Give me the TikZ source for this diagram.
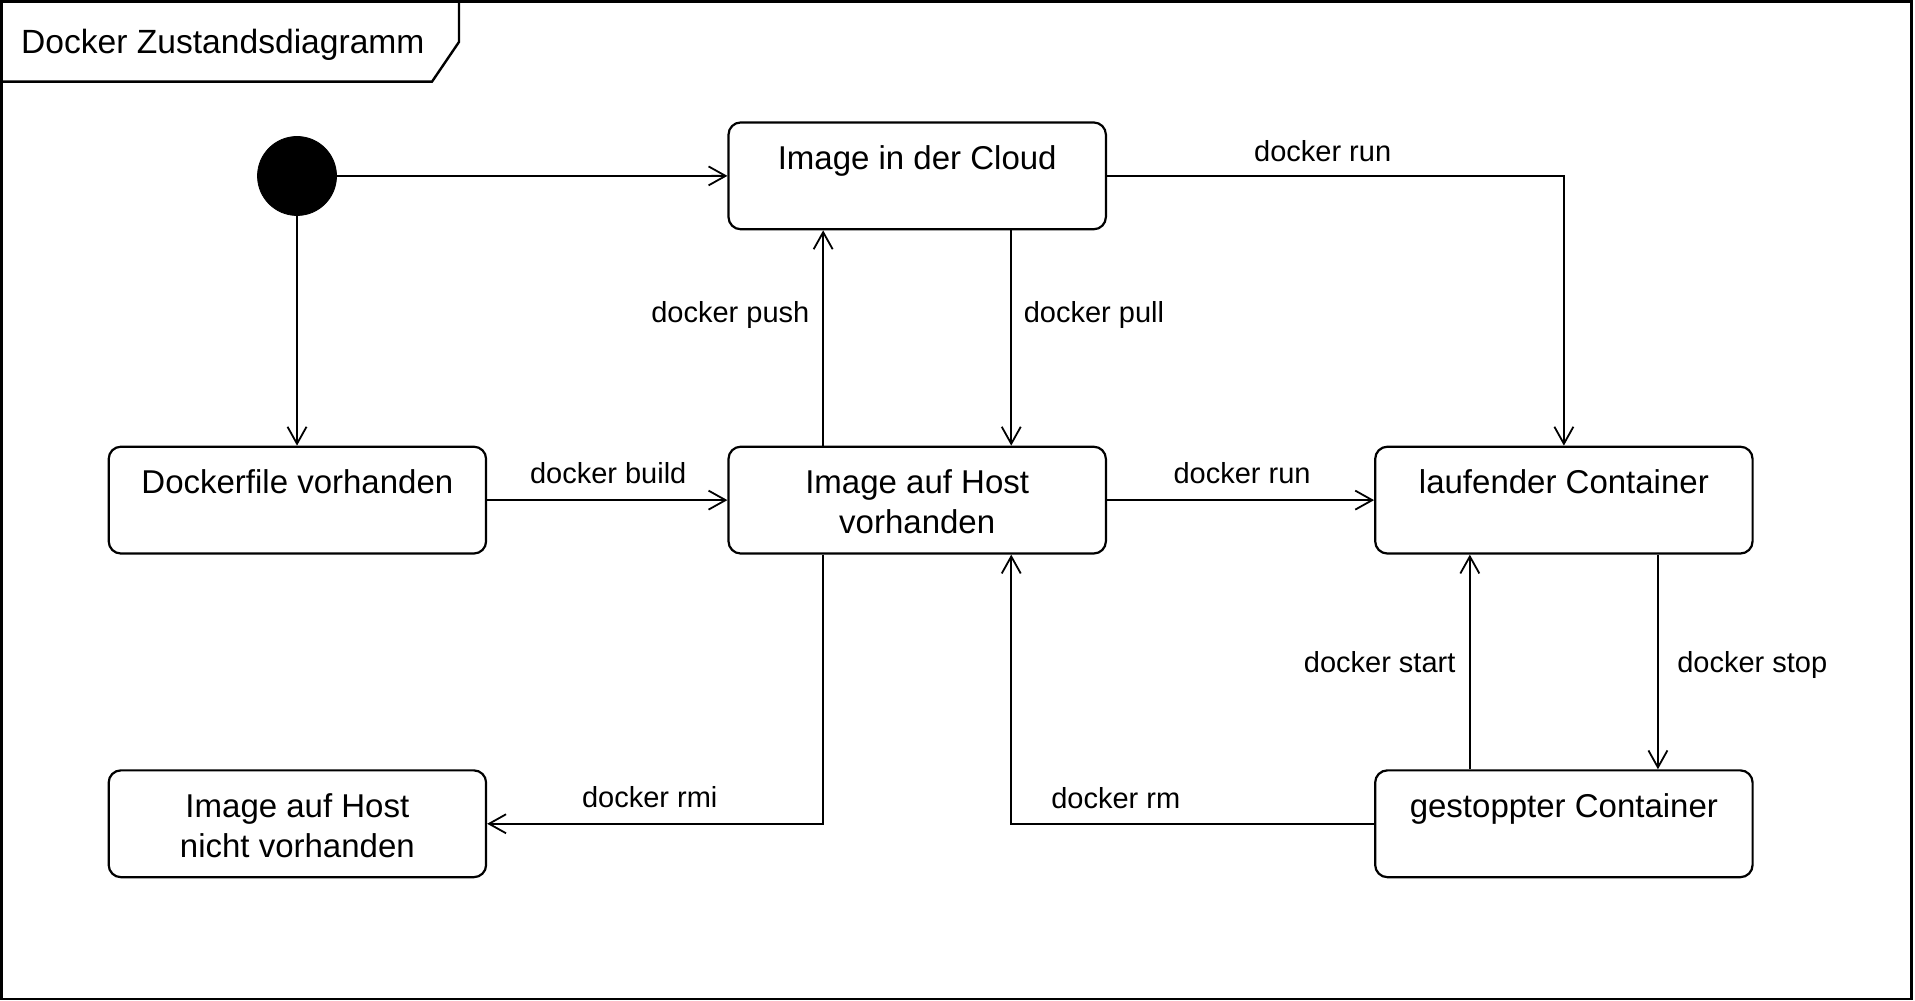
\documentclass[tikz,border=0pt]{standalone}
\usepackage{fontspec}
\setmainfont{Liberation Sans}
\usetikzlibrary{arrows.meta,calc}
\begin{document}
\begin{tikzpicture}[x=0.61066pt, y=-0.61066pt,
  statebox/.style={draw, line width=1.1pt, rounded corners=6.1pt, inner sep=0pt,
    minimum width=188.7pt, minimum height=53.4pt},
  stxt/.style={anchor=base, inner sep=0pt, align=center, font=\fontsize{16.5pt}{20pt}\selectfont},
  lbl/.style={anchor=base, inner sep=0pt, font=\fontsize{14.5pt}{17pt}\selectfont},
  conn/.style={draw, line width=0.9pt, -{Straight Barb[length=8.5pt,width=9.5pt]}}
]
\useasboundingbox (0,0) rectangle (1568,819.6);
% frame
\draw[line width=1.2pt] (1.2,1.2) rectangle (1565,817.8);
\draw[line width=1.2pt] (1.2,66.9) -- (353.7,66.9) -- (375.8,34.4) -- (375.8,1.2);
\node[anchor=base west, inner sep=0pt, font=\fontsize{16.8pt}{20pt}\selectfont] (title) at (17,43.7) {Docker Zustandsdiagramm};

% initial state
\node[circle, fill=black, draw=black, minimum size=39.5pt, inner sep=0pt] (init) at (243.2,144.1) {};

% states
\node[statebox] (cloud) at (751,144) {};
\node[statebox] (dfile) at (243.5,409.5) {};
\node[statebox] (host) at (751,409.5) {};
\node[statebox] (run) at (1280.5,409.5) {};
\node[statebox] (nicht) at (243.5,674.5) {};
\node[statebox] (stop) at (1280.5,674.5) {};

\node[stxt] (cloudt) at (751,139) {Image in der Cloud};
\node[stxt] (dfilet) at (243.5,404) {Dockerfile vorhanden};
\node[stxt] (hostt) at (751,436.8) {Image auf Host\\vorhanden};
\node[stxt] (runt) at (1280.5,404) {laufender Container};
\node[stxt] (nichtt) at (243.5,701.8) {Image auf Host\\nicht vorhanden};
\node[stxt] (stopt) at (1280.5,669) {gestoppter Container};

% connectors
\draw[conn] (init) -- (cloud);
\draw[conn] (init.south) -- (init.south |- dfile.north);
\draw[conn] (cloud.east) -| (run.north);
\draw[conn] ($(cloud.south)+(77,0)$) -- ($(host.north)+(77,0)$);
\draw[conn] ($(host.north)+(-77,0)$) -- ($(cloud.south)+(-77,0)$);
\draw[conn] (dfile) -- (host);
\draw[conn] (host) -- (run);
\draw[conn] ($(host.south)+(-77,0)$) |- (nicht.east);
\draw[conn] (stop.west) -| ($(host.south)+(77,0)$);
\draw[conn] ($(stop.north)+(-77,0)$) -- ($(run.south)+(-77,0)$);
\draw[conn] ($(run.south)+(77,0)$) -- ($(stop.north)+(77,0)$);

% labels
\node[lbl] (l1) at (1083,132) {docker run};
\node[lbl, anchor=base east] (l2) at (663,264) {docker push};
\node[lbl, anchor=base west] (l3) at (838,264) {docker pull};
\node[lbl] (l4) at (498,396) {docker build};
\node[lbl] (l5) at (1017,396) {docker run};
\node[lbl] (l6) at (532,661) {docker rmi};
\node[lbl, anchor=base west] (l7) at (860.5,662) {docker rm};
\node[lbl, anchor=base east] (l8) at (1192,551) {docker start};
\node[lbl, anchor=base west] (l9) at (1373,551) {docker stop};
\end{tikzpicture}
\end{document}
